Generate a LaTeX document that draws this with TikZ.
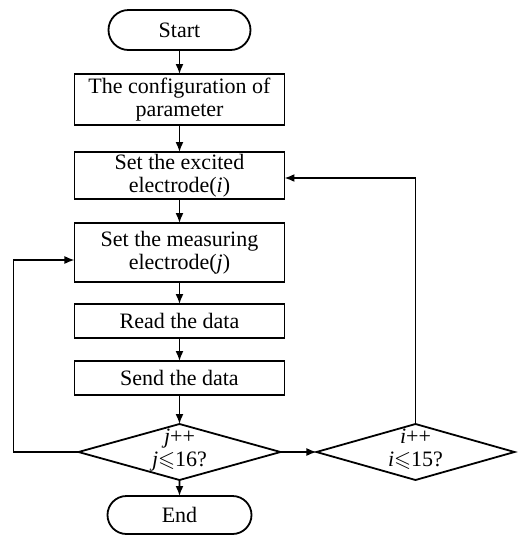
\documentclass[tikz,border=0pt]{standalone}
\usepackage{amsmath,amssymb}
\usepackage{fontspec}
\setmainfont{Liberation Serif}
\usepackage{tikz}
\usetikzlibrary{shapes.geometric,shapes.misc,arrows.meta,positioning}

\begin{document}
\begin{tikzpicture}[node distance=12pt, auto,
    terminal/.style={rounded rectangle, draw=black, line width=0.9pt, minimum width=73pt, minimum height=20pt, inner sep=1pt, outer sep=0pt, font=\fontsize{11}{11.5}\selectfont},
    block/.style={rectangle, draw=black, line width=0.9pt, minimum width=105pt, minimum height=17pt, inner xsep=3pt, inner ysep=1pt, outer sep=0pt, align=center, font=\fontsize{11}{11.5}\selectfont},
    decision/.style={diamond, aspect=3.6, draw=black, line width=0.9pt, inner sep=0pt, outer sep=0pt, minimum width=101pt, minimum height=28pt, font=\fontsize{11}{11.5}\selectfont},
    line/.style={draw, line width=0.8pt, -{Latex[length=5pt,width=4pt]}}]

    % bounding box (reference proportions)
    \useasboundingbox (-89.75pt,15pt) rectangle (169.25pt,-253.5pt);

    \node [terminal] (start) at (0,0) {Start};
    \node [block, below=of start, minimum height=25.5pt] (config) {The configuration of\\parameter};
    \node [block, below=13.5pt of config, minimum height=23.5pt] (exc) {Set the excited\\electrode(\textit{i})};
    \node [block, below=of exc, minimum height=29.5pt] (meas) {Set the measuring\\electrode(\textit{j})};
    \node [block, below=11pt of meas] (read) {Read the data};
    \node [block, below=11.5pt of read] (send) {Send the data};
    \node [decision, below=14.5pt of send] (jloop) {\raisebox{-3.5pt}{\smash{\begin{tabular}{@{}c@{}}\textit{j}++\\\textit{j}$\leqslant$16?\end{tabular}}}};
    \node [decision, right=18pt of jloop, minimum width=99pt] (iloop) {\raisebox{-3.5pt}{\smash{\begin{tabular}{@{}c@{}}\textit{i}++\\\textit{i}$\leqslant$15?\end{tabular}}}};
    \node [terminal, below=8pt of jloop, minimum width=74pt, minimum height=19pt] (end) {End};

    \coordinate (jback) at ([xshift=-30.5pt,yshift=-3.75pt]meas.west);

    \path [line] (start) -- (config);
    \path [line] (config) -- (exc);
    \path [line] (exc) -- (meas);
    \path [line] (meas) -- (read);
    \path [line] (read) -- (send);
    \path [line] (send) -- (jloop);
    \path [line] (jloop) -- (end);
    \path [line] (jloop) -- (iloop);
    \path [line] (jloop.west) -| (jback) -- (jback -| meas.west);
    \path [line] (iloop.north) |- ([yshift=-1.25pt]exc.east);
\end{tikzpicture}
\end{document}
